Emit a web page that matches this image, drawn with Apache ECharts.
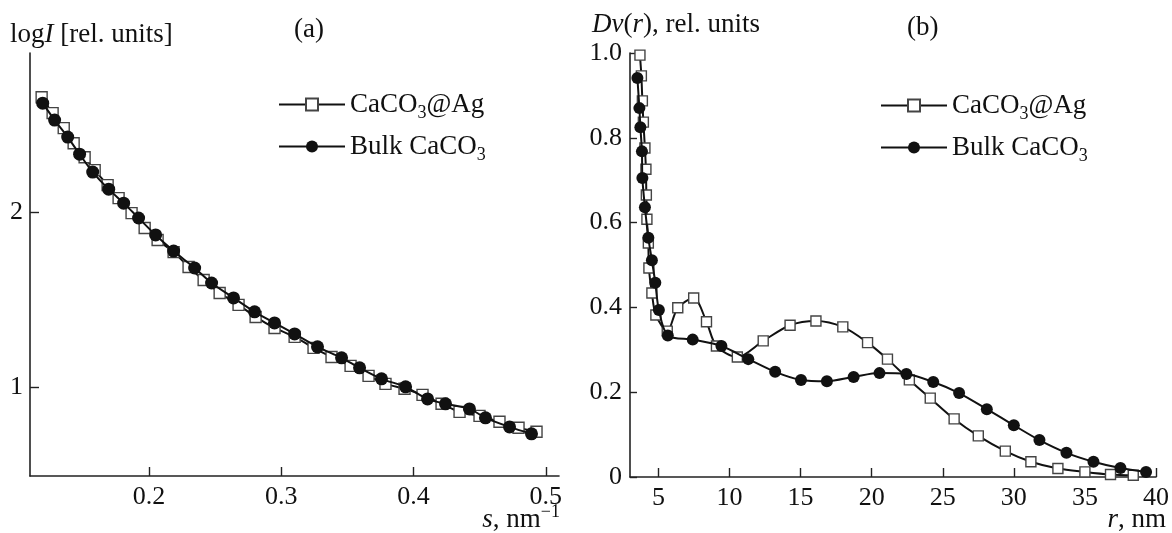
<!DOCTYPE html>
<html>
<head>
<meta charset="utf-8">
<script src="https://cdn.jsdelivr.net/npm/echarts@6/dist/echarts.min.js"></script>
<style>
html,body{margin:0;padding:0;background:#fff;}
#chart{width:1172px;height:533px;}
</style>
</head>
<body>
<div id="chart"></div>
<script>
// Panel (a): scattering curves
const sAg = [0.1188,0.1271,0.1355,0.1430,0.1513,0.1589,0.1687,0.1770,0.1868,0.1967,0.2065,0.2186,0.2299,0.2413,0.2534,0.2677,0.2806,0.2949,0.3101,0.3244,0.3380,0.3524,0.3660,0.3788,0.3932,0.4068,0.4212,0.4348,0.4499,0.4650,0.4794,0.4930];
const logIAg = [2.657,2.566,2.480,2.394,2.314,2.240,2.154,2.080,1.994,1.909,1.840,1.771,1.686,1.611,1.537,1.469,1.400,1.337,1.286,1.223,1.171,1.120,1.063,1.017,0.989,0.954,0.903,0.857,0.834,0.800,0.766,0.743];
const sBulk = [0.1196,0.1286,0.1385,0.1475,0.1574,0.1695,0.1808,0.1921,0.2050,0.2186,0.2345,0.2473,0.2639,0.2798,0.2949,0.3101,0.3274,0.3456,0.3592,0.3758,0.3940,0.4106,0.4242,0.4423,0.4544,0.4726,0.4892];
const logIBulk = [2.623,2.526,2.429,2.331,2.229,2.131,2.051,1.966,1.869,1.777,1.680,1.594,1.509,1.429,1.366,1.303,1.229,1.166,1.109,1.046,1.000,0.931,0.903,0.874,0.823,0.771,0.731];
const sTicks = [0.2,0.3,0.4,0.5];
const logITicks = [1,2];

// Panel (b): volume size distributions
const rAg = [3.70,3.80,3.87,3.94,4.05,4.12,4.15,4.19,4.29,4.33,4.54,4.82,5.62,6.36,7.48,8.38,9.08,10.55,12.37,14.26,16.08,17.97,19.71,21.11,22.65,24.12,25.8,27.5,29.4,31.2,33.1,35.0,36.8,38.4];
const dvAg = [0.995,0.946,0.887,0.837,0.776,0.726,0.665,0.608,0.552,0.493,0.434,0.382,0.344,0.399,0.422,0.366,0.309,0.283,0.321,0.358,0.368,0.354,0.317,0.278,0.229,0.186,0.137,0.097,0.061,0.036,0.020,0.012,0.006,0.004];
const rBulk = [3.52,3.66,3.73,3.84,3.87,4.05,4.29,4.54,4.78,5.03,5.66,7.41,9.43,11.32,13.21,15.03,16.85,18.73,20.55,22.44,24.33,26.15,28.1,30.0,31.8,33.7,35.6,37.5,39.3];
const dvBulk = [0.941,0.870,0.825,0.768,0.705,0.636,0.564,0.511,0.458,0.394,0.334,0.324,0.309,0.278,0.248,0.229,0.226,0.236,0.245,0.243,0.224,0.198,0.160,0.122,0.087,0.057,0.036,0.021,0.012];
const rTicks = [5,10,15,20,25,30,35,40];
const dvTicks = [0,0.2,0.4,0.6,0.8,1.0];

const nameAg = 'CaCO3@Ag';
const nameBulk = 'Bulk CaCO3';

const FONT = '"Liberation Serif", "Times New Roman", serif';
const FS = 27;
const FS_TICK = 26;
const INK = '#111';

const pairs = (xs, ys) => xs.map((x, i) => [x, ys[i]]);

const base = {fontFamily: FONT, color: INK, fontWeight: 'normal', lineHeight: 30};
const rich = {
  n: Object.assign({fontSize: FS}, base),
  i: Object.assign({fontSize: FS, fontStyle: 'italic'}, base),
  sub: Object.assign({fontSize: 18, verticalAlign: 'bottom', padding: [0, 0, -3, 0]}, base),
  sup: Object.assign({fontSize: 18, verticalAlign: 'top', padding: [-2, 0, 0, 0]}, base)
};

function legendText(name) {
  if (name === nameAg) return '{n|CaCO}{sub|3}{n|@Ag}';
  return '{n|Bulk CaCO}{sub|3}';
}

function mkLegend(name, left, top) {
  return {
    data: [name], orient: 'vertical', left: left, top: top,
    itemWidth: 66, itemHeight: 15, padding: 0, selectedMode: false,
    formatter: legendText,
    textStyle: {rich: rich, fontFamily: FONT, fontSize: FS, color: INK, fontWeight: 'normal'}
  };
}

const axisLine = {show: true, lineStyle: {color: '#222', width: 1.6}};
const labelStyle = {fontFamily: FONT, fontSize: FS_TICK, color: INK};

function agSeries(xi, yi, data, size) {
  return {
    name: nameAg, type: 'line', xAxisIndex: xi, yAxisIndex: yi, data: data,
    smooth: 0.3, symbol: 'rect', symbolSize: size,
    lineStyle: {color: INK, width: 2},
    itemStyle: {color: '#fff', borderColor: '#444', borderWidth: 1.4},
    z: 2, animation: false
  };
}
function bulkSeries(xi, yi, data, size) {
  return {
    name: nameBulk, type: 'line', xAxisIndex: xi, yAxisIndex: yi, data: data,
    smooth: 0.3, symbol: 'circle', symbolSize: size,
    lineStyle: {color: INK, width: 2},
    itemStyle: {color: INK, borderColor: INK, borderWidth: 0},
    z: 3, animation: false
  };
}

function mkTitle(text, pos) {
  return Object.assign({text: text, padding: 0, textStyle: {rich: rich, fontWeight: 'normal', fontFamily: FONT, fontSize: FS, color: INK}}, pos);
}

const option = {
  backgroundColor: '#fff',
  animation: false,
  title: [
    mkTitle('{n|(a)}', {left: 294, top: 15}),
    mkTitle('{n|(b)}', {left: 907, top: 13}),
    mkTitle('{n|log}{i|I}{n| [rel. units]}', {left: 10, top: 20}),
    mkTitle('{i|Dv}{n|(}{i|r}{n|), rel. units}', {left: 592, top: 10}),
    mkTitle('{i|s}{n|, nm}{sup|−1}', {right: 612, top: 505}),
    mkTitle('{i|r}{n|, nm}', {right: 6, top: 505})
  ],
  legend: [
    mkLegend(nameAg, 278, 91),
    mkLegend(nameBulk, 278, 133),
    mkLegend(nameAg, 880, 92),
    mkLegend(nameBulk, 880, 134)
  ],
  grid: [
    {left: 30, top: 53, width: 529, height: 423},
    {left: 630, top: 53, width: 529, height: 424}
  ],
  xAxis: [
    {
      type: 'value', gridIndex: 0, min: 0.11, max: 0.51,
      axisLine: axisLine, splitLine: {show: false},
      axisTick: {show: true, inside: true, length: 9, customValues: sTicks, lineStyle: {color: '#222', width: 1.4}},
      axisLabel: Object.assign({margin: 8, customValues: sTicks, formatter: v => v.toFixed(1)}, labelStyle)
    },
    {
      type: 'value', gridIndex: 1, min: 3, max: 40,
      axisLine: axisLine, splitLine: {show: false},
      axisTick: {show: true, inside: true, length: 9, customValues: rTicks, lineStyle: {color: '#222', width: 1.4}},
      axisLabel: Object.assign({margin: 8, customValues: rTicks, formatter: v => String(v)}, labelStyle)
    }
  ],
  yAxis: [
    {
      type: 'value', gridIndex: 0, min: 0.49, max: 2.91,
      axisLine: axisLine, splitLine: {show: false},
      axisTick: {show: true, inside: true, length: 9, customValues: logITicks, lineStyle: {color: '#222', width: 1.4}},
      axisLabel: Object.assign({margin: 7, customValues: logITicks, formatter: v => String(v)}, labelStyle)
    },
    {
      type: 'value', gridIndex: 1, min: 0, max: 1,
      axisLine: axisLine, splitLine: {show: false},
      axisTick: {show: true, inside: true, length: 7, customValues: dvTicks, lineStyle: {color: '#222', width: 1.4}},
      axisLabel: Object.assign({margin: 8, customValues: dvTicks, formatter: v => (v === 0 ? '0' : v.toFixed(1))}, labelStyle)
    }
  ],
  series: [
    agSeries(0, 0, pairs(sAg, logIAg), 11),
    bulkSeries(0, 0, pairs(sBulk, logIBulk), 13),
    agSeries(1, 1, pairs(rAg, dvAg), 10),
    bulkSeries(1, 1, pairs(rBulk, dvBulk), 12)
  ]
};

const chart = echarts.init(document.getElementById('chart'), null, {renderer: 'canvas'});
chart.setOption(option);
</script>
</body>
</html>
